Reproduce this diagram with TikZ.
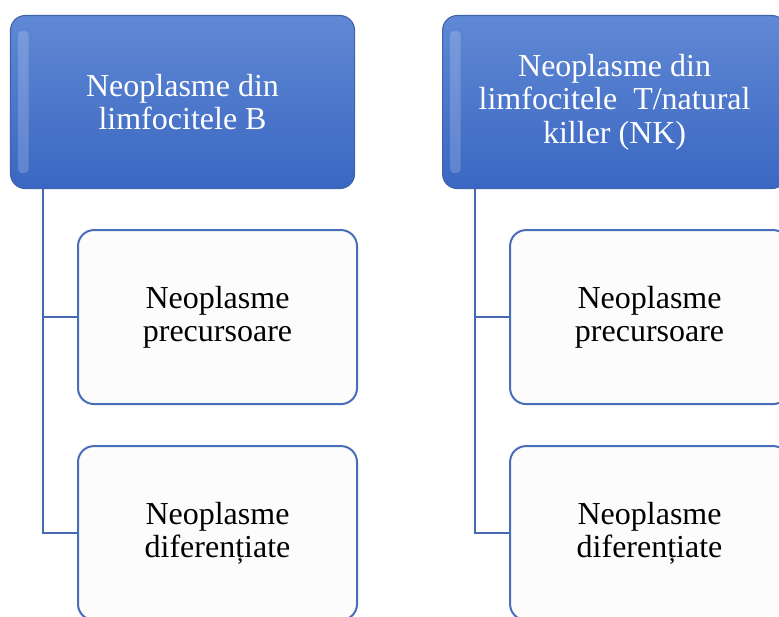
\documentclass[tikz,border=0pt]{standalone}
\usepackage{fontspec}
\setmainfont{Liberation Serif}
\usepackage{tikz}
\usetikzlibrary{
    positioning,
    calc
}
\definecolor{headtop}{RGB}{96,136,212}
\definecolor{headbot}{RGB}{58,103,194}
\definecolor{headrim}{RGB}{62,98,172}
\definecolor{childrim}{RGB}{72,110,186}
\definecolor{linkblue}{RGB}{70,106,178}
\tikzset{
    groupbox/.style={
        draw=headrim,
        line width=0.8pt,
        rounded corners=11pt,
        minimum width=258pt,
        minimum height=129.75pt,
        align=center,
        text=white,
        top color=headtop,
        bottom color=headbot,
        font=\fontsize{24}{25}\selectfont
    }
}
\tikzset{
    subtype/.style={
        draw=childrim,
        line width=1.5pt,
        rounded corners=12pt,
        minimum width=209.25pt,
        minimum height=130.5pt,
        align=center,
        fill=black!1,
        font=\fontsize{24}{25}\selectfont
    }
}
\tikzset{
    tree/.style={
        draw=linkblue,
        line width=1.8pt
    }
}

\begin{document}
\begin{tikzpicture}

\useasboundingbox (-7.5pt,11.25pt) rectangle (576.75pt,-451.5pt);
\clip (-7.5pt,11.25pt) rectangle (576.75pt,-451.5pt);

\node[groupbox, anchor=north west] (headB) at (0,0)
    {Neoplasme din\\limfocitele B};

\node[groupbox, right=65.25pt of headB] (headT)
    {Neoplasme din\\limfocitele \ T/natural\\killer (NK)};

% light bevel along the left edges
\foreach \h in {headB,headT}{
    \fill[white, opacity=0.18, rounded corners=3pt]
        ($(\h.north west)+(6pt,-12pt)$) rectangle ($(\h.south west)+(14pt,12pt)$);
}

\node[subtype, below right=30pt and 50.25pt of headB.south west, anchor=north west] (precB)
    {Neoplasme\\precursoare};
\node[subtype, below=30pt of precB] (difB)
    {Neoplasme\\diferențiate};

\node[subtype, below right=30pt and 50.25pt of headT.south west, anchor=north west] (precT)
    {Neoplasme\\precursoare};
\node[subtype, below=30pt of precT] (difT)
    {Neoplasme\\diferențiate};

\draw[tree] ([xshift=24.75pt]headB.south west) |- (precB.west);
\draw[tree] ([xshift=24.75pt]headB.south west) |- (difB.west);
\draw[tree] ([xshift=24.75pt]headT.south west) |- (precT.west);
\draw[tree] ([xshift=24.75pt]headT.south west) |- (difT.west);

\end{tikzpicture}
\end{document}
